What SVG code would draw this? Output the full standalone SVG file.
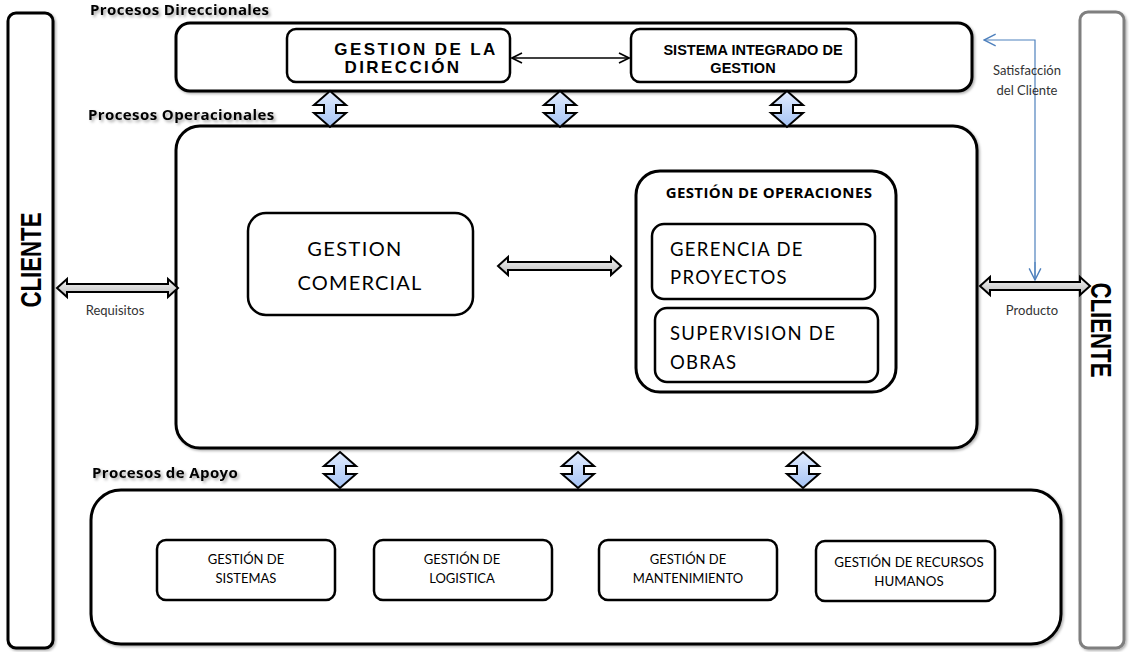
<svg xmlns="http://www.w3.org/2000/svg" width="1129" height="652" viewBox="0 0 1129 652">
<defs>
<linearGradient id="blueG" x1="0" y1="0" x2="0" y2="1"><stop offset="0" stop-color="#e3edff"/><stop offset="1" stop-color="#a4c2f4"/></linearGradient>
<linearGradient id="grayG" x1="0" y1="0" x2="0" y2="1"><stop offset="0" stop-color="#f4f4f4"/><stop offset="1" stop-color="#bdbdbd"/></linearGradient>
<filter id="sh" x="-10%" y="-10%" width="120%" height="130%"><feDropShadow dx="1.5" dy="1.5" stdDeviation="1" flood-color="#000" flood-opacity="0.3"/></filter>
<filter id="tsh" x="-10%" y="-30%" width="120%" height="160%"><feDropShadow dx="2" dy="2" stdDeviation="1.5" flood-color="#000" flood-opacity="0.35"/></filter>
<marker id="arr" viewBox="0 0 12 12" refX="11" refY="6" markerWidth="12" markerHeight="12" markerUnits="userSpaceOnUse" orient="auto-start-reverse"><path d="M1,1 L11,6 L1,11" fill="none" stroke="#000" stroke-width="1.6"/></marker>
<marker id="barr" viewBox="0 0 12 12" refX="11" refY="6" markerWidth="14" markerHeight="14" markerUnits="userSpaceOnUse" orient="auto"><path d="M1,1 L11,6 L1,11" fill="none" stroke="#4f81bd" stroke-width="1.2"/></marker>
</defs>
<style>
.box{fill:#fff;stroke:#000;stroke-width:3}
.ibox{fill:#fff;stroke:#000;stroke-width:2.5}
.sec{font-family:"Open Sans",Lato,sans-serif;font-weight:bold;font-size:15px;letter-spacing:0.4px;fill:#000}
.cal{font-family:Lato,"Open Sans",sans-serif;fill:#000}
.arb{font-family:"Liberation Sans",Arial,sans-serif;font-weight:bold;fill:#000}
.lbl{font-family:Lato,"Open Sans",sans-serif;font-size:13px;fill:#333}
.va{fill:url(#blueG);stroke:#000;stroke-width:2}
.ha{fill:url(#grayG);stroke:#000;stroke-width:2}
</style>

<g id="cliente-izq">
<rect x="8" y="13" width="45" height="635" rx="8" class="box" filter="url(#sh)"/>
<text class="arb" font-size="29" text-anchor="middle" textLength="95" lengthAdjust="spacingAndGlyphs" transform="translate(41,260) rotate(-90)">CLIENTE</text>
</g>

<g id="cliente-der">
<rect x="1080" y="12" width="44" height="636" rx="8" fill="#fff" stroke="#7f7f7f" stroke-width="3" filter="url(#sh)"/>
<text class="arb" font-size="29" text-anchor="middle" textLength="95" lengthAdjust="spacingAndGlyphs" transform="translate(1091,330) rotate(90)">CLIENTE</text>
</g>

<g id="procesos-direccionales">
<text class="sec" x="90" y="15" filter="url(#tsh)">Procesos Direccionales</text>
<rect x="176" y="23" width="796" height="68" rx="14" class="box" filter="url(#sh)"/>
</g>

<g id="gestion-direccion">
<rect x="287" y="29" width="223" height="53" rx="9" class="ibox"/>
<text class="arb" font-size="17" letter-spacing="2.4" text-anchor="middle" x="416" y="55">GESTION DE LA</text>
<text class="arb" font-size="17" letter-spacing="2.4" text-anchor="middle" x="403" y="73">DIRECCIÓN</text>
</g>

<g id="sistema-integrado">
<rect x="631" y="29" width="225" height="53" rx="9" class="ibox"/>
<text class="arb" font-size="14.5" text-anchor="middle" x="753" y="55">SISTEMA INTEGRADO DE</text>
<text class="arb" font-size="14.5" text-anchor="middle" x="743" y="73">GESTION</text>
</g>

<g id="procesos-operacionales">
<text class="sec" x="88" y="120" filter="url(#tsh)">Procesos Operacionales</text>
<rect x="176" y="126" width="801" height="322" rx="24" class="box" filter="url(#sh)"/>
</g>

<g id="gestion-comercial">
<rect x="248" y="213" width="225" height="102" rx="18" class="ibox"/>
<text class="cal" font-size="20" letter-spacing="1.4" text-anchor="middle" x="355" y="256">GESTION</text>
<text class="cal" font-size="20" letter-spacing="1.2" text-anchor="middle" x="360" y="290">COMERCIAL</text>
</g>

<g id="gestion-operaciones">
<rect x="636" y="171" width="260" height="221" rx="24" class="box"/>
<text class="sec" font-size="15" letter-spacing="0.9" text-anchor="middle" x="769" y="198">GESTIÓN DE OPERACIONES</text>
</g>

<g id="gerencia-proyectos">
<rect x="652" y="224" width="223" height="75" rx="12" class="ibox"/>
<text class="cal" font-size="18.5" letter-spacing="1.3" x="670" y="256">GERENCIA DE</text>
<text class="cal" font-size="18.5" letter-spacing="1.3" x="670" y="284">PROYECTOS</text>
</g>

<g id="supervision-obras">
<rect x="655" y="308" width="223" height="74" rx="12" class="ibox"/>
<text class="cal" font-size="18.5" letter-spacing="1.3" x="670" y="340">SUPERVISION DE</text>
<text class="cal" font-size="18.5" letter-spacing="1.3" x="670" y="369">OBRAS</text>
</g>

<g id="procesos-apoyo">
<text class="sec" x="92" y="478" filter="url(#tsh)">Procesos de Apoyo</text>
<rect x="91" y="490" width="970" height="154" rx="30" class="box" filter="url(#sh)"/>
</g>

<g id="gestion-sistemas">
<rect x="157" y="540" width="178" height="60" rx="9" class="ibox"/>
<text class="cal" font-size="13" text-anchor="middle" x="246" y="564">GESTIÓN DE</text>
<text class="cal" font-size="13" text-anchor="middle" x="246" y="583">SISTEMAS</text>
</g>

<g id="gestion-logistica">
<rect x="374" y="540" width="178" height="60" rx="9" class="ibox"/>
<text class="cal" font-size="13" text-anchor="middle" x="462" y="564">GESTIÓN DE</text>
<text class="cal" font-size="13" text-anchor="middle" x="462" y="583">LOGISTICA</text>
</g>

<g id="gestion-mantenimiento">
<rect x="599" y="540" width="178" height="60" rx="9" class="ibox"/>
<text class="cal" font-size="13" text-anchor="middle" x="688" y="564">GESTIÓN DE</text>
<text class="cal" font-size="13" text-anchor="middle" x="688" y="583">MANTENIMIENTO</text>
</g>

<g id="gestion-rrhh">
<rect x="816" y="541" width="179" height="60" rx="9" class="ibox"/>
<text class="cal" font-size="13.3" text-anchor="middle" x="909" y="567">GESTIÓN DE RECURSOS</text>
<text class="cal" font-size="13.3" text-anchor="middle" x="909" y="586">HUMANOS</text>
</g>

<g id="connectors">
<line x1="512" y1="58" x2="629" y2="58" stroke="#000" stroke-width="1.6" marker-start="url(#arr)" marker-end="url(#arr)"/>
<path class="va" d="M330,91 L346,105 L336,105 L336,113 L346,113 L330,127 L314,113 L324,113 L324,105 L314,105 Z"/>
<path class="va" d="M560,91 L576,105 L566,105 L566,113 L576,113 L560,127 L544,113 L554,113 L554,105 L544,105 Z"/>
<path class="va" d="M787,91 L803,105 L793,105 L793,113 L803,113 L787,127 L771,113 L781,113 L781,105 L771,105 Z"/>
<path class="va" d="M340,452 L356,466 L346,466 L346,474 L356,474 L340,488 L324,474 L334,474 L334,466 L324,466 Z"/>
<path class="va" d="M578,452 L594,466 L584,466 L584,474 L594,474 L578,488 L562,474 L572,474 L572,466 L562,466 Z"/>
<path class="va" d="M803,452 L819,466 L809,466 L809,474 L819,474 L803,488 L787,474 L797,474 L797,466 L787,466 Z"/>
<path class="ha" d="M57,288 L67,279 L67,284 L168,284 L168,279 L178,288 L168,297 L168,292 L67,292 L67,297 Z"/>
<path class="ha" d="M498,266 L508,257 L508,262 L611,262 L611,257 L621,266 L611,275 L611,270 L508,270 L508,275 Z"/>
<path class="ha" d="M980,286 L990,277 L990,282 L1080,282 L1080,277 L1090,286 L1080,295 L1080,290 L990,290 L990,295 Z"/>
<polyline points="1035,280 1035,40 984,40" fill="none" stroke="#4f81bd" stroke-width="1.2" marker-end="url(#barr)"/>
<line x1="1035" y1="262" x2="1035" y2="280" stroke="#4f81bd" stroke-width="1.2" marker-end="url(#barr)"/>
<text class="lbl" text-anchor="middle" x="115" y="315">Requisitos</text>
<text class="lbl" text-anchor="middle" x="1032" y="315">Producto</text>
<text class="lbl" text-anchor="middle" x="1027" y="75">Satisfacción</text>
<text class="lbl" text-anchor="middle" x="1027" y="95">del Cliente</text>
</g>
</svg>
